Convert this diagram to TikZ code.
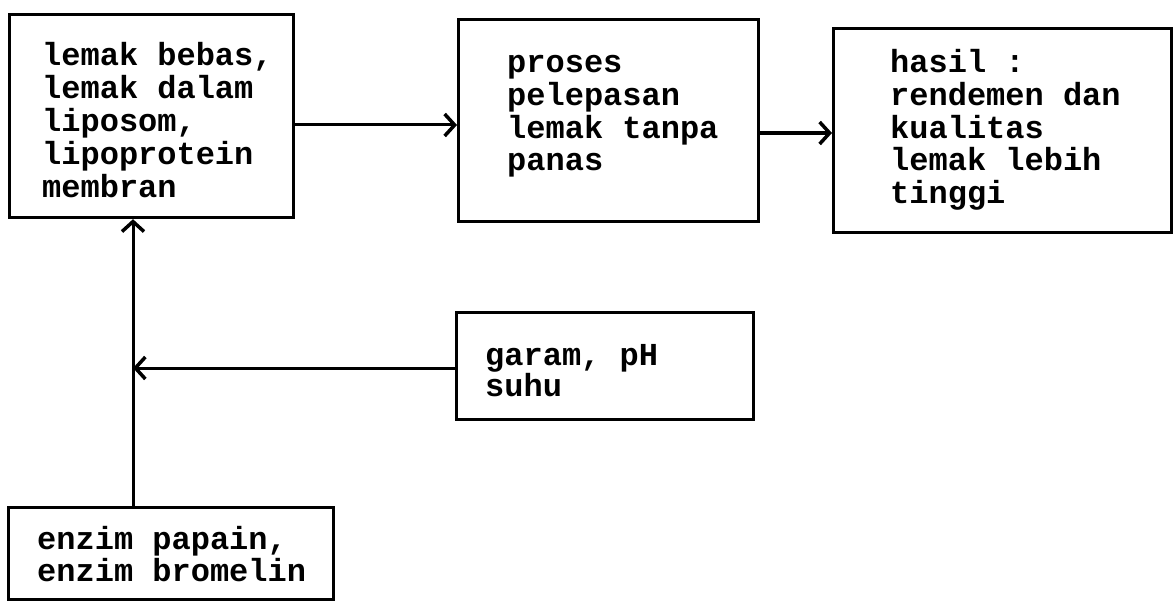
\documentclass[tikz,border=0pt]{standalone}
\usepackage{fontspec}
\newfontfamily\tw{Liberation Mono}
\usetikzlibrary{arrows.meta}
\tikzset{
  box/.style={draw, line width=3.2pt, rectangle, inner sep=0pt, anchor=north west},
  txt/.style={inner sep=0pt, anchor=base west, font=\tw\bfseries\fontsize{32}{32}\selectfont},
  arr/.style={line width=3pt, -{Straight Barb[length=10pt,width=22pt,line width=3.5pt]}},
}
\newcommand{\lines}[2]{\fontsize{32}{#1}\selectfont\begin{tabular}[t]{@{}l@{}}#2\end{tabular}}
\begin{document}
\begin{tikzpicture}[x=1pt,y=-1pt]
\useasboundingbox (0,0) rectangle (1173,604);
% boxes
\node[box, minimum width=284pt, minimum height=203pt] (b1) at (8,13) {};
\node[box, minimum width=300pt, minimum height=202pt] (b2) at (457,18) {};
\node[box, minimum width=338pt, minimum height=204pt] (b3) at (832,27) {};
\node[box, minimum width=297pt, minimum height=107pt] (b4) at (455,311) {};
\node[box, minimum width=325pt, minimum height=92pt] (b5) at (7,506) {};
% texts
\node[txt] (t1) at (42,66) {\lines{32.5pt}{lemak bebas,\\lemak dalam\\liposom,\\lipoprotein\\membran}};
\node[txt] (t2) at (507,73) {\lines{32pt}{proses\\pelepasan\\lemak tanpa\\panas}};
\node[txt] (t3) at (890,73) {\lines{31.5pt}{hasil :\\rendemen dan\\kualitas\\lemak lebih\\tinggi}};
\node[txt] (t4) at (485,365) {\lines{29pt}{garam, pH\\suhu}};
\node[txt] (t5) at (37,549) {\lines{32pt}{enzim papain,\\enzim bromelin}};
% connector helpers
\coordinate (y1) at (0,125);
\coordinate (y2) at (0,133);
\coordinate (y4) at (0,368);
\coordinate (vx) at (133,0);
% connectors
\draw[arr] (b1.east |- y1) -- (b2.west |- y1);
\draw[arr, line width=4pt] (b2.east |- y2) -- (b3.west |- y2);
\draw[arr] (b5.north -| vx) -- (b1.south -| vx);
\draw[arr] (b4.west |- y4) -- (vx |- y4);
\end{tikzpicture}
\end{document}
